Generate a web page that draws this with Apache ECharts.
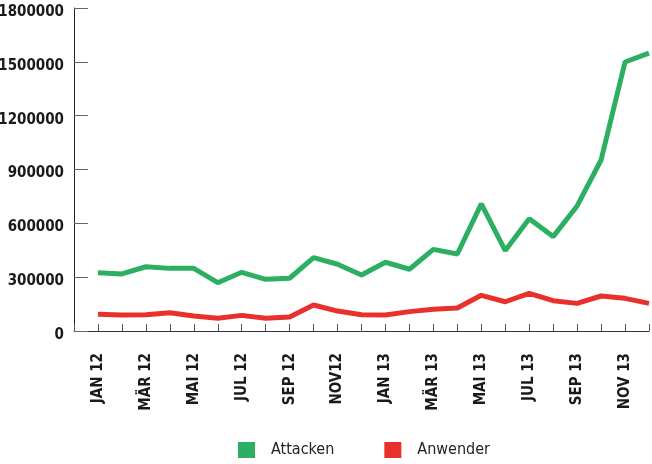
<!DOCTYPE html>
<html>
<head>
<meta charset="utf-8">
<script src="https://cdn.jsdelivr.net/npm/echarts@6/dist/echarts.min.js"></script>
<style>
  html, body { margin: 0; padding: 0; background: #ffffff; }
  #chart { width: 652px; height: 464px; }
</style>
</head>
<body>
<div id="chart"></div>
<script>
// Monate Jan 2012 - Dez 2013
var months = ['JAN 12', 'FEB 12', 'MÄR 12', 'APR 12', 'MAI 12', 'JUN 12',
              'JUL 12', 'AUG 12', 'SEP 12', 'OKT 12', 'NOV12', 'DEZ 12',
              'JAN 13', 'FEB 13', 'MÄR 13', 'APR 13', 'MAI 13', 'JUN 13',
              'JUL 13', 'AUG 13', 'SEP 13', 'OKT 13', 'NOV 13', 'DEZ 13'];
var attacken = [325000, 318000, 358000, 349000, 349000, 269000,
                327000, 288000, 294000, 409000, 372000, 312000,
                383000, 344000, 455000, 429000, 708000, 448000,
                626000, 526000, 697000, 953000, 1499000, 1548000];
var anwender = [93000, 89000, 91000, 102000, 84000, 71000,
                87000, 71000, 78000, 145000, 111000, 91000,
                89000, 108000, 121000, 128000, 199000, 163000,
                210000, 169000, 154000, 195000, 182000, 154000];

var font = "'Liberation Sans Narrow', 'DejaVu Sans Condensed', sans-serif";

function pairs(arr) {
    var out = [];
    for (var i = 0; i < arr.length; i++) {
        out.push([i, arr[i]]);
    }
    return out;
}

var chart = echarts.init(document.getElementById('chart'));
var option = {
    backgroundColor: '#FFFFFF',
    animation: false,
    grid: {
        left: 74,
        right: 3,
        top: 8,
        bottom: 133,
        outerBoundsMode: 'none',
        containLabel: false
    },
    legend: {
        left: 238,
        top: 442,
        padding: 0,
        itemWidth: 17,
        itemHeight: 16,
        itemGap: 50,
        icon: 'rect',
        textStyle: {
            fontFamily: font,
            fontSize: 16,
            color: '#222',
            padding: [0, 0, 0, 11]
        },
        data: ['Attacken', 'Anwender']
    },
    xAxis: {
        type: 'value',
        min: -1,
        max: 23,
        interval: 1,
        splitLine: { show: false },
        axisLine: { onZero: false, lineStyle: { color: '#333', width: 1 } },
        axisTick: { inside: true, length: 7, lineStyle: { color: '#555' } },
        axisLabel: {
            rotate: 90,
            margin: 22,
            fontFamily: font,
            fontWeight: 'bold',
            fontSize: 15,
            color: '#1a1a1a',
            showMinLabel: true,
            showMaxLabel: true,
            formatter: function (v) {
                if (v >= 0 && v % 2 === 0) return months[v];
                return '';
            }
        }
    },
    yAxis: {
        type: 'value',
        min: 0,
        max: 1800000,
        interval: 300000,
        splitLine: { show: false },
        axisLine: { show: true, onZero: false, lineStyle: { color: '#222', width: 1 } },
        axisTick: { show: true, inside: true, length: 14, lineStyle: { color: '#666' } },
        axisLabel: {
            margin: 10,
            fontFamily: font,
            fontWeight: 'bold',
            fontSize: 15,
            color: '#1a1a1a',
            verticalAlign: 'top',
            lineHeight: 8,
            formatter: function (v) { return String(v); }
        }
    },
    series: [
        {
            name: 'Attacken',
            type: 'line',
            data: pairs(attacken),
            symbol: 'none',
            color: '#2daf63',
            lineStyle: { width: 5, color: '#2daf63' }
        },
        {
            name: 'Anwender',
            type: 'line',
            data: pairs(anwender),
            symbol: 'none',
            color: '#e9302c',
            lineStyle: { width: 5, color: '#e9302c' }
        }
    ]
};
chart.setOption(option);
</script>
</body>
</html>
